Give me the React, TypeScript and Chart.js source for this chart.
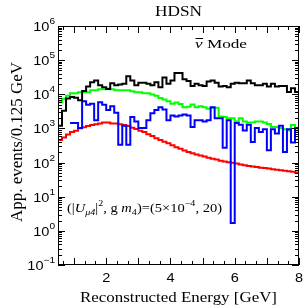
import React, { useEffect, useRef } from "react";
import { Chart, registerables } from "chart.js";

Chart.register(...registerables);

// ---------------- data ----------------
const E_MIN = 0.5;
const E_MAX = 8;
const BIN_WIDTH = 0.125;
const binLowEdges: number[] = Array.from({ length: 60 }, (_, i) => E_MIN + i * BIN_WIDTH);

const blackTotal: number[] = [
  1200, 3300, 7500, 8300, 7900, 6700, 12500, 16800, 22700, 25200,
  18500, 16000, 14300, 21000, 18500, 19300, 20200, 34000, 25200, 18500,
  21800, 21800, 20200, 18500, 22700, 16000, 31000, 20200, 25200, 42000,
  42000, 27700, 24400, 17600, 20200, 18500, 17600, 23500, 25200, 21800,
  16800, 17600, 16000, 20200, 21800, 21000, 21000, 25200, 21000, 18500,
  18500, 20200, 16800, 20200, 16800, 17600, 17600, 11700, 15100, 11700,
];

const greenSeries: number[] = [
  5800, 7400, 9000, 10700, 10700, 11500, 11500, 11500, 13200, 13200,
  14000, 14000, 14800, 14000, 13200, 13200, 13200, 13200, 12300, 11500,
  11500, 10700, 10700, 9800, 9000, 7800, 7000, 6200, 5300, 5700,
  5200, 4200, 4300, 5000, 4200, 4500, 4200, 3800, 4000, 4000,
  2250, 2150, 2000, 2000, 1600, 2000, 1600, 1500, 1500, 1600,
  1600, 1500, 1350, 1100, 1100, 1030, 950, 870, 1270, 870,
];

const blueSeries: (number | null)[] = [
  null, null, null, 1430, 1430, 1030, 6200, 4900, 5300, 1750,
  5800, 4900, 3450, 4450, 2880, 330, 1200, 330, 2150, 1600,
  1030, 1030, 1750, 2800, 3450, 4200, 3600, 1750, 2400, 2250,
  2400, 2550, 2400, 1100, 1750, 1750, 1600, 1750, 4200, 2000,
  2000, 270, 1750, 1.7, 1430, 1280, 870, 1280, 400, 1030,
  790, 950, 230, 950, 710, 1200, 205, 950, 385, 1030,
];

const redSeries: number[] = [
  460, 545, 660, 780, 860, 1010, 1090, 1170, 1250, 1330,
  1400, 1480, 1480, 1400, 1400, 1330, 1250, 1170, 1050, 970,
  860, 780, 680, 600, 520, 460, 410, 365, 320, 280,
  255, 225, 205, 188, 172, 160, 150, 138, 130, 122,
  114, 107, 103, 99, 94, 88, 84, 80, 77, 74,
  71, 69, 67, 64, 62, 60, 58, 56, 54, 51,
];

const yTickExponents: number[] = [-1, 0, 1, 2, 3, 4, 5, 6];
const xTickLabels: number[] = [2, 4, 6, 8];
const X_TICK_DIVS_PER_GEV = 3;

const TITLE = "HDSN";
const Y_TITLE = "App. events/0.125 GeV";
const X_TITLE = "Reconstructed Energy [GeV]";

// ---------------- helpers ----------------
function histPoints(vals: (number | null)[]) {
  const pts = binLowEdges.map((x, i) => ({ x, y: vals[i] }));
  pts.push({ x: E_MAX, y: vals[vals.length - 1] });
  return pts;
}

const SERIF = '"Liberation Serif", "DejaVu Serif", serif';
const SANS = '"Liberation Sans", Arial, sans-serif';

type Run = { t: string; italic?: boolean; size: number; dy?: number };

function runsWidth(ctx: CanvasRenderingContext2D, runs: Run[]) {
  let w = 0;
  for (const r of runs) {
    ctx.font = `${r.italic ? "italic " : ""}${r.size}px ${SERIF}`;
    w += ctx.measureText(r.t).width;
  }
  return w;
}

function drawRunsFit(ctx: CanvasRenderingContext2D, runs: Run[], x: number, y: number, targetW: number) {
  const w = runsWidth(ctx, runs);
  const sx = targetW / w;
  ctx.save();
  ctx.translate(x, y);
  ctx.scale(sx, 1);
  ctx.textAlign = "left";
  let cx = 0;
  for (const r of runs) {
    ctx.font = `${r.italic ? "italic " : ""}${r.size}px ${SERIF}`;
    ctx.fillText(r.t, cx, r.dy || 0);
    cx += ctx.measureText(r.t).width;
  }
  ctx.restore();
}

function drawFitCentered(ctx: CanvasRenderingContext2D, text: string, font: string, cx: number, y: number, targetW: number) {
  ctx.font = font;
  const w = ctx.measureText(text).width;
  ctx.save();
  ctx.translate(cx, y);
  ctx.scale(targetW / w, 1);
  ctx.textAlign = "center";
  ctx.fillText(text, 0, 0);
  ctx.restore();
}

const decorPlugin = {
  id: "hdsnDecor",
  afterDraw(chart: any) {
    const { ctx, chartArea: a, scales } = chart;
    const xs = scales.x;
    const ys = scales.y;
    ctx.save();
    ctx.strokeStyle = "#000";
    ctx.fillStyle = "#000";
    ctx.lineWidth = 1;

    ctx.strokeRect(a.left + 0.5, a.top + 0.5, a.right - a.left - 1, a.bottom - a.top - 1);

    const seg = (x1: number, y1: number, x2: number, y2: number) => {
      ctx.beginPath();
      ctx.moveTo(x1, y1);
      ctx.lineTo(x2, y2);
      ctx.stroke();
    };

    // y ticks
    const eMin = yTickExponents[0];
    const eMax = yTickExponents[yTickExponents.length - 1];
    for (let e = eMin; e < eMax; e++) {
      for (let m = 1; m < 10; m++) {
        const v = m * Math.pow(10, e);
        const py = Math.round(ys.getPixelForValue(v)) + 0.5;
        const len = m === 1 ? 7 : 4;
        seg(a.left, py, a.left + len, py);
        seg(a.right, py, a.right - len, py);
      }
    }

    // x ticks
    const kStart = Math.ceil(E_MIN * X_TICK_DIVS_PER_GEV);
    const kEnd = Math.floor(E_MAX * X_TICK_DIVS_PER_GEV);
    for (let k = kStart; k <= kEnd; k++) {
      const v = k / X_TICK_DIVS_PER_GEV;
      const px = Math.round(xs.getPixelForValue(v)) + 0.5;
      const major = k % X_TICK_DIVS_PER_GEV === 0;
      const len = major ? 7 : 4;
      seg(px, a.bottom, px, a.bottom - len);
      seg(px, a.top, px, a.top + len);
    }

    // y tick labels
    ctx.textBaseline = "alphabetic";
    for (const e of yTickExponents) {
      const py = ys.getPixelForValue(Math.pow(10, e));
      const expTxt = e < 0 ? "\u2212" + Math.abs(e) : String(e);
      const right = a.left - 3;
      ctx.save();
      ctx.translate(right, py);
      ctx.scale(1.12, 1);
      ctx.font = `9px ${SANS}`;
      const ew = ctx.measureText(expTxt).width;
      ctx.textAlign = "left";
      ctx.fillText(expTxt, -ew, -2);
      ctx.font = `13px ${SANS}`;
      ctx.textAlign = "right";
      ctx.fillText("10", -ew, 5);
      ctx.restore();
    }

    // x tick labels
    for (const v of xTickLabels) {
      const px = xs.getPixelForValue(v);
      ctx.save();
      ctx.translate(px, a.bottom + 17);
      ctx.scale(1.12, 1);
      ctx.textAlign = "center";
      ctx.font = `13px ${SANS}`;
      ctx.fillText(String(v), 0, 0);
      ctx.restore();
    }

    const midX = (a.left + a.right) / 2;
    drawFitCentered(ctx, TITLE, `15px ${SERIF}`, midX, 16, 47);
    drawFitCentered(ctx, X_TITLE, `15px ${SERIF}`, midX, 302, 197);
    ctx.save();
    ctx.translate(22, 142);
    ctx.rotate(-Math.PI / 2);
    drawFitCentered(ctx, Y_TITLE, `16px ${SERIF}`, 0, 0, 160);
    ctx.restore();

    // nu-bar mode
    const nuRuns: Run[] = [
      { t: "\u03bd", size: 13, italic: true },
      { t: " Mode", size: 13 },
    ];
    const nuW = runsWidth(ctx, nuRuns);
    const nuSx = 52 / nuW;
    ctx.font = `italic 13px ${SERIF}`;
    const nuGlyphW = ctx.measureText("\u03bd").width * nuSx;
    drawRunsFit(ctx, nuRuns, 195, 48, 52);
    seg(195.5, 38.5, 195.5 + nuGlyphW, 38.5);

    // parameter annotation
    const s = 13;
    const ss = 9;
    drawRunsFit(
      ctx,
      [
        { t: "(|", size: s },
        { t: "U", size: s, italic: true },
        { t: "\u03bc4", size: ss, italic: true, dy: 3 },
        { t: "|", size: s },
        { t: "2", size: ss, dy: -6 },
        { t: ", g ", size: s },
        { t: "m", size: s, italic: true },
        { t: "4", size: ss, dy: 3 },
        { t: ")=(5\u00d710", size: s },
        { t: "\u22124", size: ss, dy: -6 },
        { t: ", 20)", size: s },
      ],
      67,
      212,
      155
    );

    ctx.restore();
  },
};

export default function App() {
  const ref = useRef<HTMLCanvasElement | null>(null);
  useEffect(() => {
    document.body.style.margin = "0";
    const canvas = ref.current;
    if (!canvas) return;
    const mk = (label: string, vals: (number | null)[], color: string, order: number) => ({
      label,
      data: histPoints(vals),
      borderColor: color,
      backgroundColor: color,
      borderWidth: 2,
      pointRadius: 0,
      stepped: true as const,
      fill: false,
      spanGaps: false,
      order,
    });
    const chart = new Chart(canvas, {
      type: "line",
      data: {
        datasets: [
          mk("Total", blackTotal, "#000000", 0),
          mk("Blue", blueSeries, "#0000ff", 1),
          mk("Green", greenSeries, "#00ff00", 2),
          mk("Red", redSeries, "#ff0000", 3),
        ],
      },
      plugins: [decorPlugin],
      options: {
        responsive: false,
        animation: false,
        devicePixelRatio: 1,
        layout: { padding: { top: 26, right: 8, left: 0, bottom: 0 } },
        plugins: { legend: { display: false }, tooltip: { enabled: false }, title: { display: false } },
        scales: {
          x: {
            type: "linear",
            min: E_MIN,
            max: E_MAX,
            grid: { display: false },
            border: { display: false },
            ticks: { display: false },
            afterFit: (sc: any) => {
              sc.height = 42;
            },
          },
          y: {
            type: "logarithmic",
            min: 0.1,
            max: 1e6,
            grid: { display: false },
            border: { display: false },
            ticks: { display: false },
            afterFit: (sc: any) => {
              sc.width = 58;
            },
          },
        },
      },
    });
    return () => chart.destroy();
  }, []);
  return (
    <div style={{ position: "absolute", left: 0, top: 0, width: 307, height: 307, background: "#fff" }}>
      <canvas ref={ref} width={307} height={307} style={{ display: "block", width: 307, height: 307 }} />
    </div>
  );
}
